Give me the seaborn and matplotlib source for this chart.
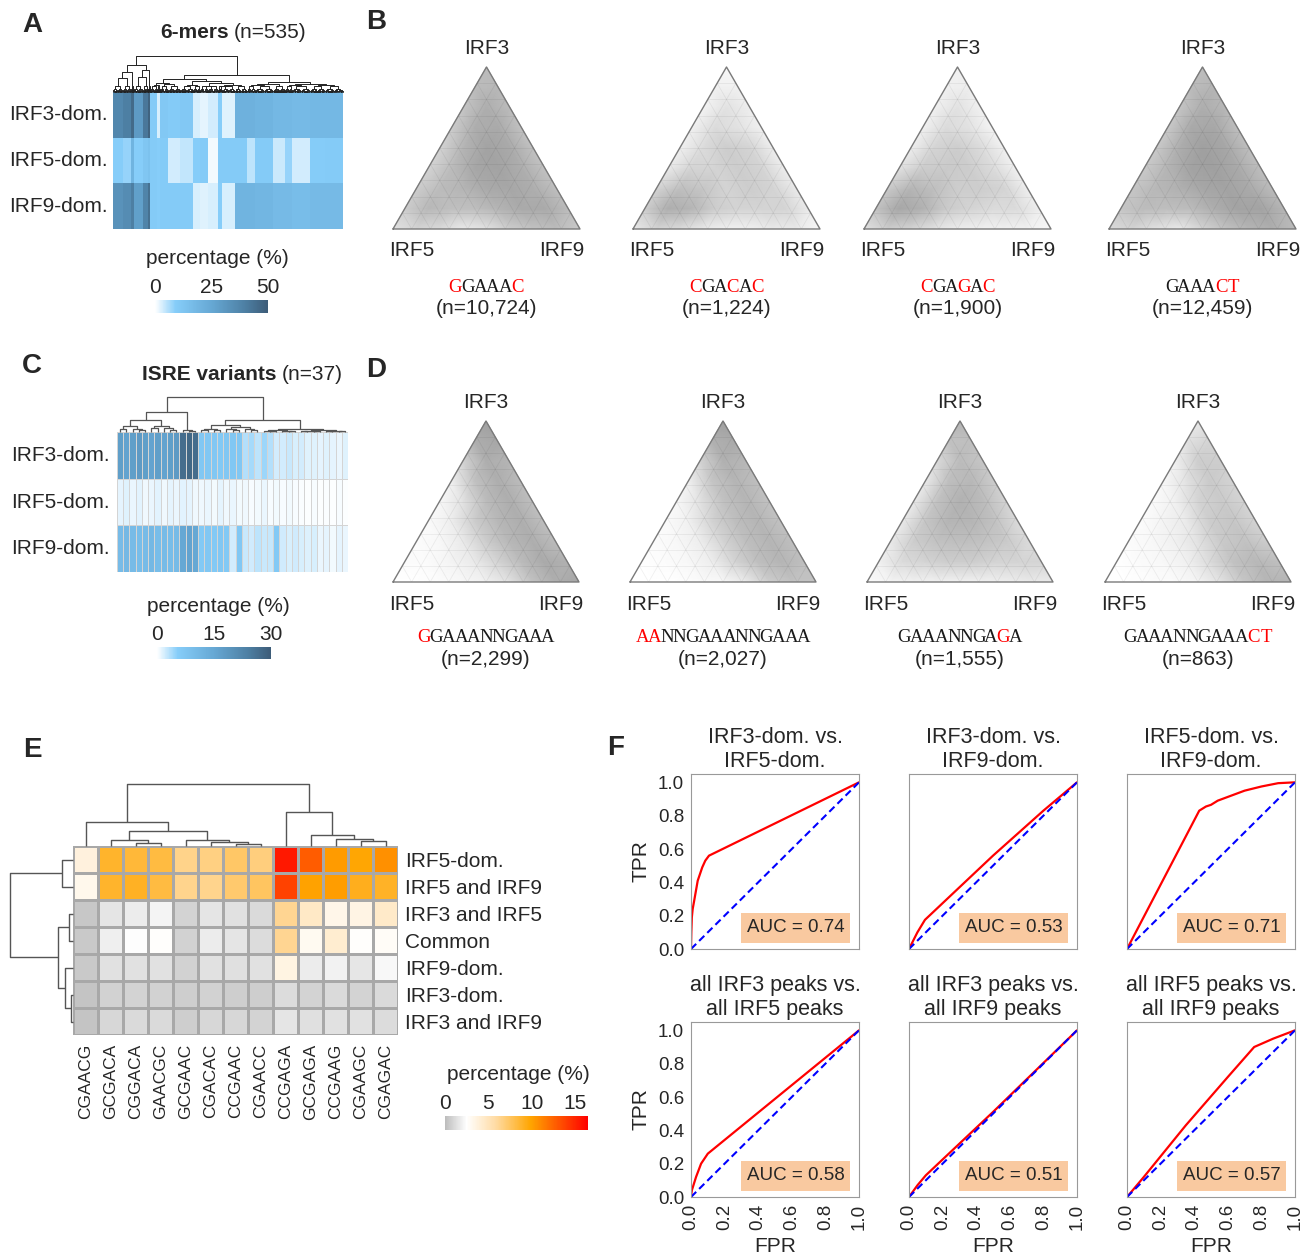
import numpy as np
import pandas as pd
import matplotlib
matplotlib.use('Agg')
import matplotlib.pyplot as plt
from matplotlib.colors import LinearSegmentedColormap
from matplotlib.collections import LineCollection
from matplotlib.patches import Rectangle
import seaborn as sns

sns.set_theme(style='white')
plt.rcParams['font.family'] = ['Liberation Sans', 'DejaVu Sans']

# ---------------------------------------------------- data

DOMS = ['IRF3-dom.', 'IRF5-dom.', 'IRF9-dom.']

# panel A: the 535 6-mers, read as runs of similar columns (run length, % per row)
A_RUN_LEN = [23, 19, 7, 21, 12, 5, 16, 7, 19, 28, 30, 16, 19, 23, 9, 30, 28, 19, 42, 28, 16, 42, 35, 41]
A_IRF3 = [37, 40, 46, 30, 42, 48, 10, 3, 11, 10, 11, 3, 2, 3.5, 9, 2.5, 21, 21, 20, 18, 18, 17, 18, 18]
A_IRF5 = [9, 8, 20, 9, 12, 14, 10, 9, 10, 3.5, 4.5, 9, 10, 1, 10, 10, 10, 5, 10, 4, 8, 3.5, 9.5, 10]
A_IRF9 = [33, 35, 40, 28, 38, 44, 10, 9, 10, 10, 10, 3, 2.5, 3, 9, 3, 20, 20, 19, 17, 17, 16, 17, 17]
# tree over the runs: (height, left, right), leaves are run indices
A_TREE = (1.0,
          (0.75, (0.56, (0.4, 0, 1), 2), (0.6, (0.42, 3, 4), 5)),
          (0.47,
           (0.36, (0.25, (0.2, 6, 7), (0.22, 8, 9)),
            (0.3, (0.2, 10, 11), (0.24, (0.18, 12, 13), (0.2, (0.17, 14, 15), 16)))),
           (0.28, (0.22, (0.19, 17, 18), 19), (0.23, (0.19, 20, 21), (0.2, 22, 23)))))
A_FRINGE = 0.16

# panel C: 37 ISRE variants
C_IRF3 = [17, 16, 17, 18, 17, 16, 17, 16, 17, 18, 27, 28, 27, 7, 7, 7, 6.5, 7, 7, 7,
          3.5, 4, 3, 4.5, 3.5, 2, 2, 2.5, 1.8, 2, 1.5, 1.5, 1.2, 1.5, 1.2, 1, 1.5]
C_IRF5 = [1.2, 1.5, 1, 1.3, 0.8, 1, 1.4, 0.8, 1.2, 1, 1.4, 1.2, 0.8, 0.8, 1, 0.7, 1.2, 0.8, 1, 0.7,
          0.8, 0.4, 0.7, 1, 0.4, 0.7, 0.4, 0.7, 0.4, 0.3, 0.2, 0.4, 0.2, 0.3, 0.2, 0.4, 0.2]
C_IRF9 = [10, 11, 10, 9.5, 10, 11, 9.5, 10, 9.5, 10, 15, 16, 15, 6.5, 7, 6.5, 7, 6.5, 2, 7,
          2.5, 2.2, 3, 2.5, 2.6, 6.5, 2.2, 1.8, 2.2, 1.8, 1.6, 1.8, 1, 1.2, 0.6, 1.2, 1]
C_TREE = (1.0,
          (0.57, (0.34, ('blk', 0, 5, 0.16), ('blk', 5, 10, 0.18)), ('blk', 10, 13, 0.06)),
          (0.34, (0.2, ('blk', 13, 17, 0.1), ('blk', 17, 23, 0.14)),
           (0.09, ('blk', 23, 29, 0.06), ('blk', 29, 37, 0.07))))

# panels B and D: point density in the ternary plots, rows from the IRF3 corner
# down to the IRF5-IRF9 edge, each row from the IRF5 side to the IRF9 side
B_MOTIFS = ['gGAAAc', 'cGAcAc', 'cGAgAc', 'GAAAct']
B_COUNTS = ['10,724', '1,224', '1,900', '12,459']
B_DENS = [
    [[0.6], [0.6, 0.65], [0.45, 0.8, 0.6], [0.35, 0.8, 0.85, 0.5], [0.3, 0.7, 0.95, 0.85, 0.5],
     [0.3, 0.6, 0.9, 0.95, 0.8, 0.5], [0.35, 0.6, 0.7, 0.85, 0.9, 0.8, 0.55],
     [0.35, 0.65, 0.55, 0.55, 0.7, 0.85, 0.85, 0.6], [0.2, 0.3, 0.25, 0.15, 0.2, 0.35, 0.5, 0.6, 0.4]],
    [[0.05], [0.1, 0.1], [0.08, 0.2, 0.12], [0.1, 0.25, 0.2, 0.1], [0.1, 0.25, 0.35, 0.3, 0.12],
     [0.15, 0.3, 0.3, 0.35, 0.3, 0.12], [0.3, 0.55, 0.45, 0.3, 0.35, 0.3, 0.15],
     [0.35, 0.8, 0.7, 0.35, 0.3, 0.3, 0.3, 0.15], [0.15, 0.3, 0.25, 0.15, 0.1, 0.1, 0.15, 0.15, 0.05]],
    [[0.1], [0.1, 0.12], [0.1, 0.2, 0.1], [0.1, 0.25, 0.2, 0.08], [0.12, 0.3, 0.35, 0.25, 0.1],
     [0.2, 0.35, 0.4, 0.35, 0.25, 0.1], [0.4, 0.7, 0.55, 0.35, 0.35, 0.3, 0.12],
     [0.5, 0.9, 0.75, 0.4, 0.3, 0.25, 0.25, 0.12], [0.2, 0.35, 0.3, 0.2, 0.12, 0.1, 0.1, 0.1, 0.05]],
    [[0.55], [0.6, 0.7], [0.45, 0.8, 0.65], [0.4, 0.85, 0.9, 0.55], [0.4, 0.8, 1.0, 0.9, 0.55],
     [0.4, 0.7, 0.95, 1.0, 0.85, 0.55], [0.45, 0.65, 0.75, 0.9, 0.95, 0.85, 0.6],
     [0.45, 0.6, 0.55, 0.6, 0.8, 0.95, 0.95, 0.7], [0.25, 0.3, 0.2, 0.15, 0.3, 0.5, 0.7, 0.8, 0.6]],
]
D_MOTIFS = ['gGAAANNGAAA', 'aaNNGAAANNGAAA', 'GAAANNGAgA', 'GAAANNGAAAct']
D_COUNTS = ['2,299', '2,027', '1,555', '863']
D_DENS = [
    [[1.0], [0.8, 0.9], [0.3, 0.8, 0.7], [0.1, 0.5, 0.8, 0.6], [0.05, 0.2, 0.6, 0.8, 0.55],
     [0.03, 0.12, 0.35, 0.65, 0.8, 0.55], [0.02, 0.05, 0.15, 0.35, 0.65, 0.8, 0.6],
     [0.02, 0.03, 0.08, 0.15, 0.3, 0.6, 0.85, 0.75], [0.0, 0.0, 0.02, 0.05, 0.1, 0.2, 0.5, 0.8, 0.9]],
    [[1.0], [0.75, 0.85], [0.3, 0.75, 0.65], [0.1, 0.45, 0.7, 0.55], [0.05, 0.2, 0.5, 0.7, 0.5],
     [0.03, 0.1, 0.3, 0.55, 0.7, 0.5], [0.02, 0.05, 0.12, 0.3, 0.55, 0.7, 0.55],
     [0.0, 0.02, 0.05, 0.12, 0.3, 0.55, 0.7, 0.55], [0.0, 0.0, 0.0, 0.03, 0.05, 0.15, 0.35, 0.5, 0.5]],
    [[0.7], [0.5, 0.55], [0.25, 0.6, 0.45], [0.15, 0.55, 0.65, 0.35], [0.15, 0.5, 0.75, 0.6, 0.3],
     [0.15, 0.45, 0.7, 0.7, 0.5, 0.25], [0.15, 0.35, 0.5, 0.55, 0.5, 0.4, 0.25],
     [0.1, 0.25, 0.3, 0.35, 0.35, 0.3, 0.3, 0.3], [0.03, 0.08, 0.1, 0.1, 0.1, 0.1, 0.12, 0.15, 0.15]],
    [[0.15], [0.2, 0.3], [0.1, 0.35, 0.35], [0.05, 0.2, 0.4, 0.3], [0.03, 0.1, 0.3, 0.4, 0.3],
     [0.02, 0.08, 0.15, 0.35, 0.45, 0.3], [0.02, 0.05, 0.1, 0.2, 0.4, 0.5, 0.35],
     [0.0, 0.03, 0.05, 0.1, 0.25, 0.5, 0.65, 0.55], [0.0, 0.0, 0.02, 0.03, 0.08, 0.2, 0.45, 0.7, 0.7]],
]

# panel E
E_ROWS = ['IRF5-dom.', 'IRF5 and IRF9', 'IRF3 and IRF5', 'Common', 'IRF9-dom.', 'IRF3-dom.', 'IRF3 and IRF9']
E_COLS = ['CGAACG', 'GCGACA', 'CGGACA', 'GAACGC', 'GCGAAC', 'CGACAC', 'CCGAAC',
          'CGAACC', 'CCGAGA', 'GCGAGA', 'CCGAAG', 'CGAAGC', 'CGAGAC']
E_VALUES = [
    [3.8, 8.8, 8.5, 8.3, 6.5, 6.7, 7.4, 6.8, 15.5, 12.8, 10.3, 9.8, 10.7],
    [3.2, 8.8, 9.0, 8.3, 6.4, 6.4, 7.2, 7.5, 13.8, 10.0, 10.2, 9.2, 8.9],
    [0.4, 1.5, 1.8, 2.1, 0.9, 1.5, 1.4, 1.1, 6.3, 4.6, 3.3, 3.5, 4.5],
    [0.5, 1.9, 2.4, 2.6, 0.8, 1.8, 1.5, 1.2, 6.3, 3.0, 4.2, 2.6, 2.8],
    [0.5, 1.4, 1.4, 1.4, 0.8, 1.4, 1.3, 1.4, 3.6, 1.8, 2.0, 1.6, 2.2],
    [0.3, 0.8, 0.9, 0.8, 0.7, 0.8, 0.7, 0.7, 1.2, 0.9, 1.1, 0.9, 1.1],
    [0.3, 1.0, 1.1, 1.1, 0.7, 1.0, 1.0, 0.9, 1.5, 1.3, 1.4, 1.4, 1.2],
]
E_COL_TREE = (62, (24, 0, (15, (6, 1, (3, 2, 3)), (6, 4, (4, 5, (2, 6, 7))))),
              (34, 8, (11, 9, (7, 10, (5, 11, 12)))))
E_ROW_TREE = (63, (11, 0, 1), (15, (4, 2, 3), (8, 4, (2, 5, 6))))

# panel F
ROC_TITLES = ['IRF3-dom. vs.\nIRF5-dom.', 'IRF3-dom. vs.\nIRF9-dom.', 'IRF5-dom. vs.\nIRF9-dom.',
              'all IRF3 peaks vs.\nall IRF5 peaks', 'all IRF3 peaks vs.\nall IRF9 peaks',
              'all IRF5 peaks vs.\nall IRF9 peaks']
ROC_AUC = [0.74, 0.53, 0.71, 0.58, 0.51, 0.57]
ROC_FPR = [
    [0, 0.002, 0.005, 0.01, 0.019, 0.04, 0.067, 0.085, 0.107, 1.0],
    [0, 0.02, 0.05, 0.095, 0.5, 0.8, 1.0],
    [0, 0.43, 0.47, 0.5, 0.54, 0.62, 0.7, 0.8, 0.9, 1.0],
    [0, 0.005, 0.03, 0.06, 0.1, 1.0],
    [0, 0.05, 0.1, 0.5, 1.0],
    [0, 0.1, 0.35, 0.6, 0.757, 0.87, 1.0],
]
ROC_TPR = [
    [0, 0.1, 0.19, 0.24, 0.29, 0.41, 0.49, 0.53, 0.56, 1.0],
    [0, 0.04, 0.1, 0.175, 0.56, 0.83, 1.0],
    [0, 0.83, 0.855, 0.865, 0.89, 0.92, 0.95, 0.975, 0.995, 1.0],
    [0, 0.04, 0.12, 0.2, 0.26, 1.0],
    [0, 0.07, 0.13, 0.51, 1.0],
    [0, 0.12, 0.43, 0.72, 0.9, 0.95, 1.0],
]

# ---------------------------------------------------- helpers

W, H = 1302, 1259
FS = 15
fig = plt.figure(figsize=(W / 100, H / 100), dpi=100)


def px(x0, y0, x1, y1):
    return [x0 / W, 1 - y1 / H, (x1 - x0) / W, (y1 - y0) / H]


def ftext(x, y, s, **kw):
    kw.setdefault('ha', 'center')
    kw.setdefault('va', 'center')
    kw.setdefault('fontsize', FS)
    fig.text(x / W, 1 - y / H, s, **kw)


def balanced(a, b, h):
    if b - a == 1:
        return a + 0.5, 0.0, []
    m = (a + b) // 2
    xl, hl, sl = balanced(a, m, h * 0.6)
    xr, hr, sr = balanced(m, b, h * 0.6)
    return (xl + xr) / 2, h, sl + sr + [[(xl, hl), (xl, h), (xr, h), (xr, hr)]]


def tree(node, leaf):
    if not isinstance(node, tuple):
        return leaf(node)
    if node[0] == 'blk':
        return balanced(node[1], node[2], node[3])
    h, left, right = node
    xl, hl, sl = tree(left, leaf)
    xr, hr, sr = tree(right, leaf)
    return (xl + xr) / 2, h, sl + sr + [[(xl, hl), (xl, h), (xr, h), (xr, hr)]]


def simple_leaf(i):
    return i + 0.5, 0.0, []


def style_cbar(cax, hax):
    cb = hax.collections[0].colorbar
    cb.outline.set_visible(False)
    cax.xaxis.set_ticks_position('top')
    cax.tick_params(length=0, labelsize=FS, pad=2)


blue_cmap = LinearSegmentedColormap.from_list(
    'irf_blue', [(0, '#ffffff'), (0.18, '#86cdf9'), (0.5, '#66a8d4'), (0.8, '#4d7fa3'), (1.0, '#3d5c78')])
heat_cmap = LinearSegmentedColormap.from_list(
    'irf_heat', [(0, '#bdbdbd'), (0.15, '#ffffff'), (0.35, '#ffdca6'), (0.6, '#ffa500'), (1.0, '#ff0000')])
tern_cmap = LinearSegmentedColormap.from_list(
    'tern', [(0, '#ffffff'), (0.35, '#cdcdcd'), (1.0, '#a0a0a0')])

# ---------------------------------------------------- panel A

a_df = pd.DataFrame([np.repeat(A_IRF3, A_RUN_LEN), np.repeat(A_IRF5, A_RUN_LEN),
                     np.repeat(A_IRF9, A_RUN_LEN)], index=DOMS)
axA = fig.add_axes(px(113, 92, 343, 229))
caxA = fig.add_axes(px(155, 300, 268, 313))
sns.heatmap(a_df, ax=axA, cmap=blue_cmap, vmin=0, vmax=50, xticklabels=False, yticklabels=True,
            cbar_ax=caxA, cbar_kws={'orientation': 'horizontal', 'ticks': [0, 25, 50]})
axA.tick_params(axis='y', length=0, pad=4, labelsize=FS, rotation=0)
style_cbar(caxA, axA)

starts = np.concatenate([[0], np.cumsum(A_RUN_LEN)])
segs = tree(A_TREE, lambda i: balanced(starts[i], starts[i + 1], A_FRINGE))[2]
axAd = fig.add_axes(px(113, 56, 343, 92))
axAd.add_collection(LineCollection(segs, colors='#222222', linewidths=0.7, clip_on=False))
axAd.set_xlim(0, len(a_df.columns))
axAd.set_ylim(0, 1)
axAd.axis('off')

ftext(32, 25, 'A', fontsize=20, fontweight='bold')
ftext(229, 32, '6-mers', ha='right', fontweight='bold')
ftext(234, 32, '(n=535)', ha='left')
ftext(217, 258, 'percentage (%)')

# ---------------------------------------------------- panel C

c_df = pd.DataFrame([C_IRF3, C_IRF5, C_IRF9], index=DOMS)
axC = fig.add_axes(px(117, 432, 348, 572))
caxC = fig.add_axes(px(157, 647, 271, 659))
sns.heatmap(c_df, ax=axC, cmap=blue_cmap, vmin=0, vmax=30, xticklabels=False, yticklabels=True,
            linewidths=0.4, linecolor='#d4d4d4',
            cbar_ax=caxC, cbar_kws={'orientation': 'horizontal', 'ticks': [0, 15, 30]})
axC.tick_params(axis='y', length=0, pad=5, labelsize=FS, rotation=0)
style_cbar(caxC, axC)

segs = tree(C_TREE, simple_leaf)[2]
axCd = fig.add_axes(px(117, 397, 348, 432))
axCd.add_collection(LineCollection(segs, colors='#555555', linewidths=0.9, clip_on=False))
axCd.set_xlim(0, len(C_IRF3))
axCd.set_ylim(0, 1)
axCd.axis('off')

ftext(32, 366, 'C', fontsize=20, fontweight='bold')
ftext(276, 375, 'ISRE variants', ha='right', fontweight='bold')
ftext(282, 375, '(n=37)', ha='left')
ftext(218, 607, 'percentage (%)')

# ---------------------------------------------------- panels B and D

SQ3 = np.sqrt(3) / 2
N_TRI = len(B_DENS[0]) - 1
node_x, node_y = [], []
for r in range(N_TRI + 1):
    for j in range(r + 1):
        node_x.append(0.5 - r / (2 * N_TRI) + j / N_TRI)
        node_y.append(SQ3 * (1 - r / N_TRI))


def draw_ternary(ax, dens):
    z = np.concatenate([np.asarray(row, float) for row in dens])
    ax.tripcolor(node_x, node_y, z, shading='gouraud', cmap=tern_cmap, vmin=0, vmax=1)
    for k in range(1, 10):
        t = k / 10
        kw = dict(color='#000000', alpha=0.06, lw=0.6)
        ax.plot([t / 2, 1 - t / 2], [SQ3 * t, SQ3 * t], **kw)
        ax.plot([t, 0.5 * (1 - t) + t], [0, SQ3 * (1 - t)], **kw)
        ax.plot([1 - t, 0.5 * (1 - t)], [0, SQ3 * (1 - t)], **kw)
    ax.plot([0, 1, 0.5, 0], [0, 0, SQ3, 0], color='#7a7a7a', lw=1, clip_on=False)
    ax.set_xlim(0, 1)
    ax.set_ylim(0, SQ3)
    ax.axis('off')


def motif(cx, y, s):
    adv = 12.4
    n = len(s)
    for i, ch in enumerate(s):
        ftext(cx + (i - (n - 1) / 2) * adv, y, ch.upper(), family='Liberation Serif', fontsize=13.5,
              color='#ff0000' if ch.islower() else '#1a1a1a')


B_LEFT = [393, 633, 864, 1109]
D_LEFT = [393, 630, 867, 1105]
for lefts, dens, motifs, counts, (top, bot), ys in [
        (B_LEFT, B_DENS, B_MOTIFS, B_COUNTS, (67, 229), (48, 250, 288, 309)),
        (D_LEFT, D_DENS, D_MOTIFS, D_COUNTS, (421, 582), (403, 604, 638, 659))]:
    for x0, d, m, n in zip(lefts, dens, motifs, counts):
        w = round((bot - top) / SQ3)
        ax = fig.add_axes(px(x0, top, x0 + w, bot))
        draw_ternary(ax, d)
        cx = x0 + w / 2
        ftext(cx, ys[0], 'IRF3')
        ftext(x0 + 19, ys[1], 'IRF5')
        ftext(x0 + w - 18, ys[1], 'IRF9')
        motif(cx, ys[2], m)
        ftext(cx, ys[3], '(n=%s)' % n)

ftext(376, 22, 'B', fontsize=20, fontweight='bold')
ftext(376, 370, 'D', fontsize=20, fontweight='bold')

# ---------------------------------------------------- panel E

e_df = pd.DataFrame(E_VALUES, index=E_ROWS, columns=E_COLS)
axE = fig.add_axes(px(73, 846, 398, 1035))
caxE = fig.add_axes(px(445, 1116, 588, 1130))
sns.heatmap(e_df, ax=axE, cmap=heat_cmap, vmin=0, vmax=16.5, linewidths=1, linecolor='#a8a8a8',
            cbar_ax=caxE, cbar_kws={'orientation': 'horizontal', 'ticks': [0, 5, 10, 15]})
axE.yaxis.tick_right()
axE.tick_params(axis='y', length=0, pad=5, labelsize=FS, rotation=0)
axE.tick_params(axis='x', length=0, pad=6, labelsize=12.5, rotation=90)
style_cbar(caxE, axE)

segs = tree(E_COL_TREE, simple_leaf)[2]
axEc = fig.add_axes(px(73, 784, 398, 846))
axEc.add_collection(LineCollection(segs, colors='#555555', linewidths=1, clip_on=False))
axEc.set_xlim(0, len(E_COLS))
axEc.set_ylim(0, 62)
axEc.axis('off')

segs = tree(E_ROW_TREE, simple_leaf)[2]
segs = [[(hh, yy) for yy, hh in s] for s in segs]
axEr = fig.add_axes(px(10, 846, 73, 1035))
axEr.add_collection(LineCollection(segs, colors='#555555', linewidths=1, clip_on=False))
axEr.set_xlim(63, 0)
axEr.set_ylim(len(E_ROWS), 0)
axEr.axis('off')

ftext(32, 750, 'E', fontsize=20, fontweight='bold')
ftext(518, 1075, 'percentage (%)')

# ---------------------------------------------------- panel F

ROC_LEFT = [691, 909, 1127]
ROC_TOP = [774, 1022]
ticks = [0, 0.2, 0.4, 0.6, 0.8, 1.0]
for k in range(6):
    r, c = divmod(k, 3)
    ax = fig.add_axes(px(ROC_LEFT[c], ROC_TOP[r], ROC_LEFT[c] + 168, ROC_TOP[r] + 175))
    sns.lineplot(x=ROC_FPR[k], y=ROC_TPR[k], ax=ax, color='red', lw=1.6, sort=False, estimator=None)
    sns.lineplot(x=[0, 1], y=[0, 1], ax=ax, color='blue', lw=1.5, linestyle=(0, (3.5, 2)))
    ax.add_patch(Rectangle((0.30, 0.035), 0.645, 0.17, transform=ax.transAxes,
                           facecolor='#f9c9a0', edgecolor='none', zorder=3))
    ax.text(0.625, 0.12, 'AUC = %.2f' % ROC_AUC[k], transform=ax.transAxes, ha='center', va='center',
            fontsize=13.5, zorder=4)
    ax.set_xlim(0, 1)
    ax.set_ylim(0, 1.05)
    ax.set_xticks(ticks)
    ax.set_yticks(ticks)
    for sp in ax.spines.values():
        sp.set_color('#999999')
        sp.set_linewidth(0.8)
    ax.tick_params(length=3, width=0.8, color='#999999', labelsize=13.5, pad=2)
    ax.set_title(ROC_TITLES[k], fontsize=15.5, pad=5, linespacing=1.2)
    if c == 0:
        ax.set_yticklabels(['%.1f' % t for t in ticks])
        ax.set_ylabel('TPR', fontsize=FS, labelpad=5)
    else:
        ax.set_yticklabels([])
    if r == 1:
        ax.set_xticklabels(['%.1f' % t for t in ticks], rotation=90)
        ax.set_xlabel('FPR', fontsize=FS, labelpad=5)
    else:
        ax.set_xticklabels([])

ftext(616, 748, 'F', fontsize=20, fontweight='bold')

fig.savefig('out.png', dpi=100)
